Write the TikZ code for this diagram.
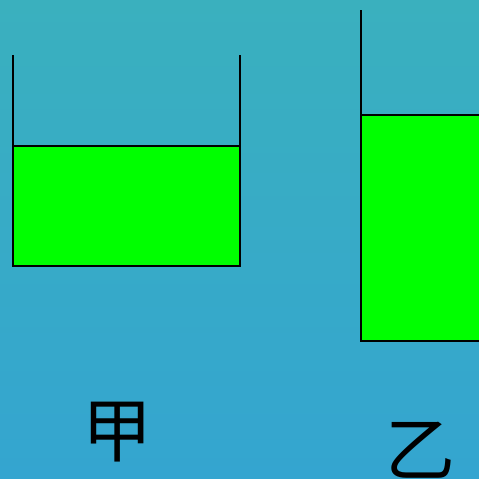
\documentclass[tikz,border=0pt]{standalone}
\usepackage{fontspec}
\newfontfamily\cjk{Noto Sans CJK SC}
\definecolor{bgtop}{RGB}{58,176,190}
\definecolor{bgbot}{RGB}{52,165,208}
\definecolor{liquid}{RGB}{0,255,0}
\begin{document}
\begin{tikzpicture}[x=1pt,y=-1pt,
  wall/.style={draw=black,line width=1.6pt},
  liq/.style={fill=liquid,draw=black,line width=1.6pt},
  lab/.style={font=\cjk\fontsize{70}{70}\selectfont,text=black,inner sep=0pt}]
\useasboundingbox (0,0) rectangle (479,479);
\clip (0,0) rectangle (479,479);
\shade[top color=bgtop,bottom color=bgbot] (0,0) rectangle (479,479);
% container A
\coordinate (a1) at (13,55);
\coordinate (a2) at (13,266);
\coordinate (a3) at (240,55);
\coordinate (a4) at (240,266);
\draw[liq] (13,146) rectangle (240,266);
\draw[wall] (a1) -- (a2);
\draw[wall] (a3) -- (a4);
% container B
\coordinate (b1) at (361,10);
\coordinate (b2) at (361,341);
\draw[liq] (361,115) rectangle (500,341);
\draw[wall] (b1) -- (b2);
% labels
\node[lab] (la) at (117,432) {甲};
\node[lab] (lb) at (420,450) {乙};
\end{tikzpicture}
\end{document}
